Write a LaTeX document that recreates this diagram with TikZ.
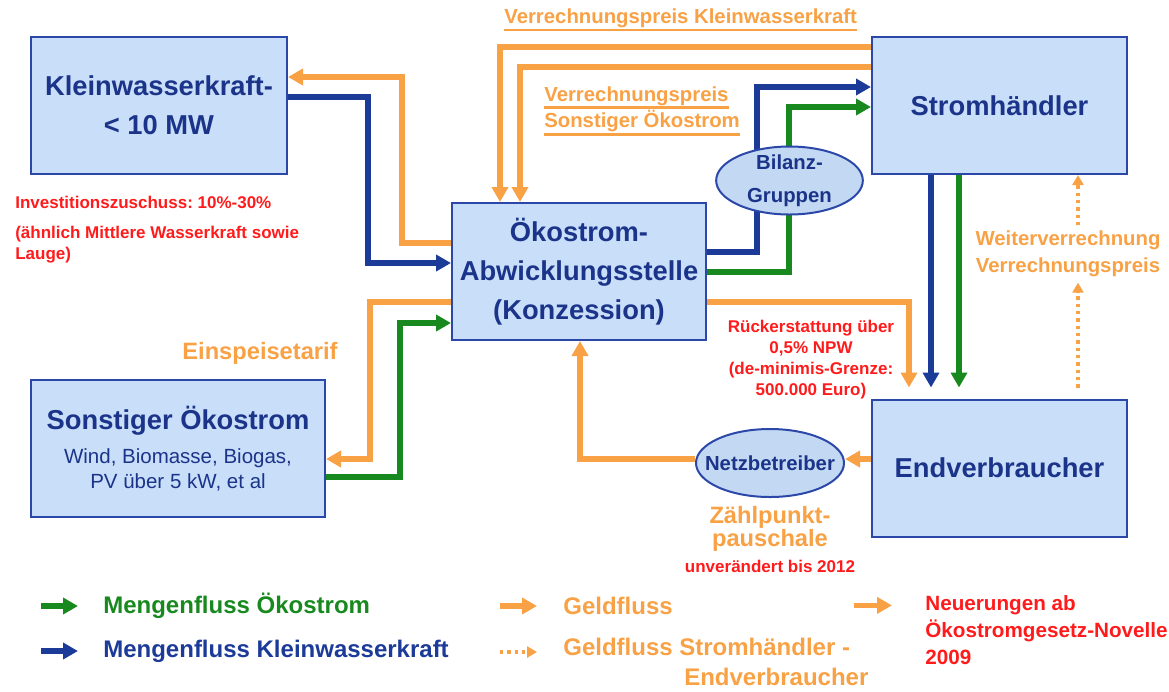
\documentclass[tikz,border=0pt]{standalone}
\usepackage{fontspec}
\setmainfont{Liberation Sans}
\usetikzlibrary{arrows.meta, positioning, backgrounds, shapes.geometric}
\definecolor{boxfill}{HTML}{C8DEF9}
\definecolor{boxborder}{HTML}{2B47A8}
\definecolor{boxtext}{HTML}{1B348A}
\definecolor{ellfill}{HTML}{C3D9F3}
\definecolor{flussblue}{HTML}{1C3A98}
\definecolor{flussgreen}{HTML}{18891F}
\definecolor{geldorange}{HTML}{F8A145}
\definecolor{neured}{HTML}{FF1B1B}
% unterstrichener Text mit dickerem Strich
\newcommand{\ustrich}[1]{\setbox0\hbox{#1}\leavevmode
    \rlap{\rule[-4.6pt]{\wd0}{1.5pt}}\box0}

\begin{document}
\begin{tikzpicture}[x=0.6pt, y=-0.6pt,
    % -- Knoten --------------------------------------------------------
    base/.style={
        draw=boxborder, fill=boxfill, line width=1.2pt,
        text=boxtext, align=center, inner sep=0pt,
        font=\fontsize{16.4}{23.4}\selectfont\bfseries
    },
    akteur/.style={base, minimum height=82.2pt},
    gruppe/.style={
        ellipse, draw=boxborder, fill=ellfill, line width=1.2pt,
        text=boxtext, align=center, inner xsep=0pt,
        font=\fontsize{12.2}{19.5}\selectfont\bfseries
    },
    notiz/.style={
        font=\fontsize{10.2}{12.6}\selectfont\bfseries,
        text=neured, inner sep=0pt
    },
    geldlabel/.style={
        font=\fontsize{12.2}{15}\selectfont\bfseries,
        text=geldorange, inner sep=0pt
    },
    tariflabel/.style={
        font=\fontsize{14.2}{13.5}\selectfont\bfseries,
        text=geldorange, inner sep=0pt
    },
    legtext/.style={
        font=\fontsize{14.4}{18}\selectfont\bfseries, inner sep=0pt
    },
    % -- Pfeile ---------------------------------------------------------
    fluss/.style={line width=3.2pt, -{Triangle[length=9pt, width=9.6pt]}},
    blau/.style={fluss, color=flussblue},
    gruen/.style={fluss, color=flussgreen},
    geld/.style={fluss, color=geldorange},
    geldpunkt/.style={
        line width=2pt, color=geldorange, dash pattern=on 2pt off 2.4pt,
        -{Triangle[length=6pt, width=6.6pt]}
    }
]
\useasboundingbox (0,0) rectangle (1169,691);

% Akteure
\node[akteur, minimum width=153.6pt] (klein) at (159,105.5)
    {Kleinwasserkraft-\\< 10 MW};
\node[akteur, minimum width=176.4pt, font=\fontsize{12.3}{15}\selectfont]
    (sonst) at (178,448.5)
    {{\fontsize{16.4}{19}\selectfont\bfseries Sonstiger Ökostrom}\\[5.5pt]
     Wind, Biomasse, Biogas,\\PV über 5 kW, et al};
\node[akteur, minimum width=152.4pt] (oeko) at (579,271.5)
    {Ökostrom-\\Abwicklungsstelle\\(Konzession)};
\node[akteur, minimum width=153pt] (strom) at (999.5,105.5) {Stromhändler};
\node[akteur, minimum width=153pt] (endv) at (999.5,468) {Endverbraucher};

% Ellipsen
\node[gruppe, minimum width=88pt, minimum height=40.8pt, inner ysep=-2pt]
    (bilanz) at (789.5,180.5) {Bilanz-\\Gruppen};
\node[gruppe, minimum width=88.8pt, minimum height=40.8pt, inner xsep=-7.6pt]
    (netz) at (770,463) {Netzbetreiber};

% Beschriftungen
\node[geldlabel, anchor=west] (vpkwk) at (504,20)
    {\ustrich{Verrechnungspreis Kleinwasserkraft}};
\node[geldlabel, anchor=west, align=left] (vpsonst) at (544,111)
    {\ustrich{Verrechnungspreis}\\\ustrich{Sonstiger Ökostrom}};
\node[tariflabel] (einsp) at (260,353) {Einspeisetarif};
\node[geldlabel, align=center, inner ysep=3.3pt,
      font=\fontsize{12.2}{16}\selectfont\bfseries] (weiter) at (1068,254)
    {Weiterverrechnung\\Verrechnungspreis};
\node[notiz, anchor=west] (invest) at (15,202)
    {Investitionszuschuss:\ 10\%-30\%};
\node[notiz, anchor=north west, align=left] (aehnl) at (15,226)
    {(ähnlich Mittlere Wasserkraft sowie\\Lauge)};
\node[notiz, align=center] (rueck) at (811,360)
    {Rückerstattung über\\0,5\% NPW\\(de-minimis-Grenze:\\500.000 Euro)};
\node[tariflabel, align=center, below=5pt of netz] (zaehl)
    {Zählpunkt-\\pauschale};
\node[notiz, below=5pt of zaehl] (unver) {unverändert bis 2012};

% Fluesse links
\draw[geld] (oeko.west |- 0,243) -- (402,243) |- (klein.east |- 0,77);
\draw[blau] (klein.east |- 0,97) -- (368,97) |- (oeko.west |- 0,263);
\draw[geld] (oeko.west |- 0,302) -- (370,302) |- (sonst.east |- 0,459);
\draw[gruen] (sonst.east |- 0,477) -- (400,477) |- (oeko.west |- 0,323);

% Verrechnungspreise
\draw[geld] (strom.west |- 0,47) -| (oeko.north -| 500,0);
\draw[geld] (strom.west |- 0,67) -| (oeko.north -| 520,0);

% ueber Bilanzgruppen
\begin{scope}[on background layer]
    \draw[blau] (oeko.east |- 0,252) -- (757,252) |- (strom.west |- 0,87);
    \draw[gruen] (oeko.east |- 0,272) -- (789,272) |- (strom.west |- 0,107);
\end{scope}

% Fluesse rechts
\draw[geld, shorten >=6.6pt] (oeko.east |- 0,302) -| (endv.north -| 909,0);
\draw[blau, shorten >=6.6pt] (strom.south -| 931,0) -- (endv.north -| 931,0);
\draw[gruen, shorten >=6.6pt] (strom.south -| 959,0) -- (endv.north -| 959,0);
\draw[geldpunkt, shorten <=6.6pt] (endv.north -| 1078,0) -- (weiter.south -| 1078,0);
\draw[geldpunkt] (weiter.north -| 1078,0) -- (strom.south -| 1078,0);
\draw[geld] (endv.west |- 0,459) -- (netz.east |- 0,459);
\draw[geld] (netz.west |- 0,459) -- (580,459) -- (oeko.south -| 580,0);

% Legende
\node[legtext, text=flussgreen, anchor=west] (lgruen) at (103,606)
    {Mengenfluss Ökostrom};
\draw[gruen] ([xshift=-37.2pt]lgruen.west) -- ([xshift=-15pt]lgruen.west);
\node[legtext, text=flussblue, anchor=west] (lblau) at (103,651)
    {Mengenfluss Kleinwasserkraft};
\draw[blau] ([xshift=-37.2pt]lblau.west) -- ([xshift=-15pt]lblau.west);
\node[legtext, text=geldorange, anchor=west] (lgeld) at (563,606) {Geldfluss};
\draw[geld] ([xshift=-37.8pt]lgeld.west) -- ([xshift=-15.6pt]lgeld.west);
\node[legtext, text=geldorange, anchor=west, align=right] (lpunkt) at (563,662)
    {Geldfluss Stromhändler -\\Endverbraucher\hspace*{-11pt}};
\draw[geldpunkt] ([xshift=-37.8pt,yshift=6pt]lpunkt.west)
    -- ([xshift=-15.6pt,yshift=6pt]lpunkt.west);
\node[notiz, font=\fontsize{12.4}{16}\selectfont\bfseries, anchor=west,
      align=left] (lneu) at (925,630)
    {Neuerungen ab\\Ökostromgesetz-Novelle\\2009};
\draw[geld] ([xshift=-42.6pt,yshift=-6pt]lneu.north west)
    -- ([xshift=-19.8pt,yshift=-6pt]lneu.north west);

\end{tikzpicture}
\end{document}
